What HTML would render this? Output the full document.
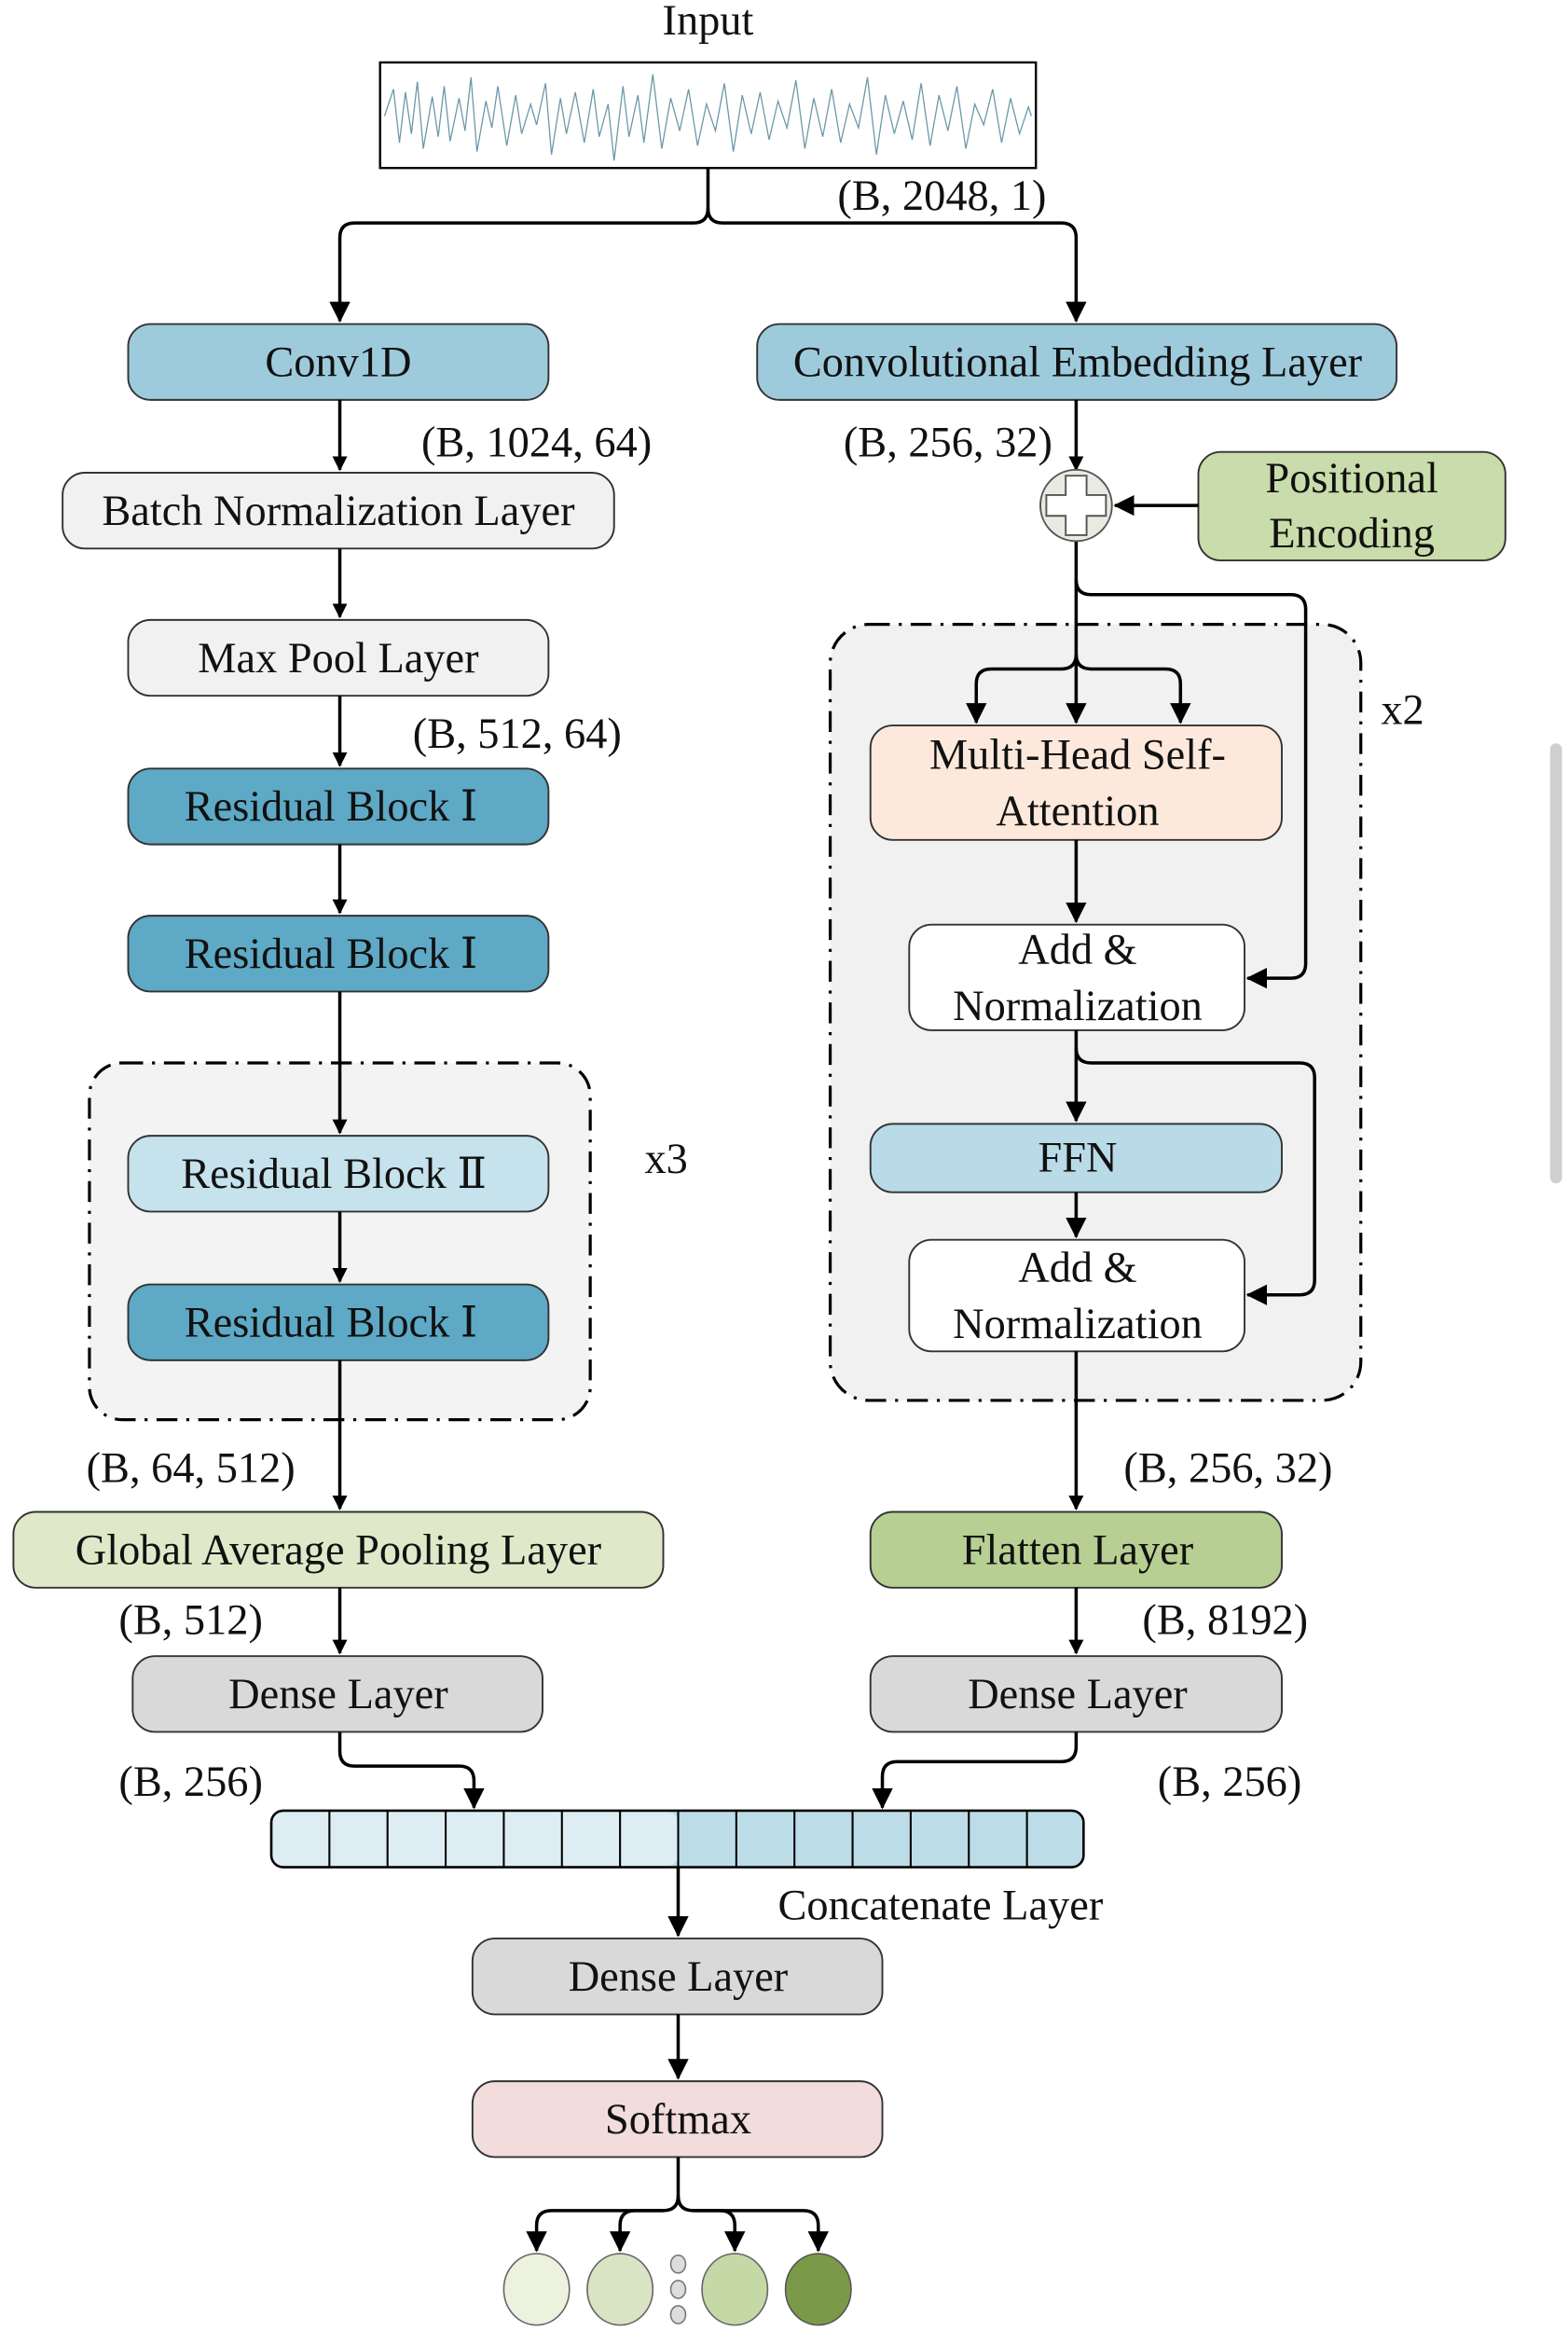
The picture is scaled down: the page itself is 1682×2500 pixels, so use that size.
<!DOCTYPE html>
<html><head><meta charset="utf-8"><style>
html,body{margin:0;padding:0;background:#fff;}
svg{display:block;}
text{font-family:"Liberation Serif","DejaVu Serif",serif;font-size:29px;fill:#111;text-anchor:middle;dominant-baseline:central;}
.b{stroke:#333;stroke-width:1.2;}
.l{stroke:#000;stroke-width:2.2;fill:none;}
</style></head><body>
<svg width="1682" height="2500" viewBox="0 0 1052 1568" preserveAspectRatio="none" xmlns="http://www.w3.org/2000/svg">
<defs><marker id="a" markerWidth="10" markerHeight="10" refX="9" refY="5" orient="auto" markerUnits="userSpaceOnUse"><path d="M0,0 L10,5 L0,10 z" fill="#000"/></marker>
<marker id="h" markerWidth="14" markerHeight="14" refX="13" refY="7" orient="auto" markerUnits="userSpaceOnUse"><path d="M0,0 L14,7 L0,14 z" fill="#000"/></marker></defs>
<rect x="1040" y="500" width="8" height="296" rx="4" fill="#cfcfcf"/>
<text x="475" y="14">Input</text>
<rect x="255" y="42" width="440" height="71" fill="#fff" stroke="#000" stroke-width="1.5"/>
<polyline fill="none" stroke="#6a97a8" stroke-width="0.8" points="258,78 264,60 268,96 272,62 276,90 280,55 284,100 290,65 294,92 298,58 302,95 308,66 312,88 316,52 320,102 326,68 330,86 334,58 340,98 346,64 350,90 356,70 360,84 366,56 370,104 376,66 380,90 386,62 392,96 398,60 402,92 408,70 412,108 418,58 422,92 428,64 432,96 438,50 444,100 450,66 456,88 462,60 468,98 474,70 480,88 486,56 492,102 498,64 504,90 510,62 516,94 522,68 528,86 534,54 540,100 546,66 552,92 558,60 564,96 570,70 576,86 582,52 588,104 594,64 600,90 606,68 612,94 618,56 624,98 630,64 636,88 642,58 648,100 654,70 660,84 666,60 672,96 678,66 684,90 690,72 692,78"/>
<path class="l" d="M475,113 V140 Q475,150 465,150 H238 Q228,150 228,160 V216" marker-end="url(#h)"/>
<path class="l" d="M475,140 Q475,150 485,150 H712 Q722,150 722,160 V216" marker-end="url(#h)"/>
<text x="632" y="132">(B, 2048, 1)</text>
<rect class="b" x="86" y="218" width="282" height="51" rx="15" fill="#9dcbdc"/><text x="227" y="244">Conv1D</text>
<path class="l" d="M228,269 V316" marker-end="url(#a)"/>
<text x="360" y="298">(B, 1024, 64)</text>
<rect class="b" x="42" y="318" width="370" height="51" rx="15" fill="#f1f1f1"/><text x="227" y="344">Batch Normalization Layer</text>
<path class="l" d="M228,369 V415" marker-end="url(#a)"/>
<rect class="b" x="86" y="417" width="282" height="51" rx="15" fill="#f1f1f1"/><text x="227" y="443">Max Pool Layer</text>
<path class="l" d="M228,468 V515" marker-end="url(#a)"/>
<text x="347" y="494">(B, 512, 64)</text>
<rect class="b" x="86" y="517" width="282" height="51" rx="15" fill="#5ea9c5"/><text x="222" y="543">Residual Block Ⅰ</text>
<path class="l" d="M228,568 V614" marker-end="url(#a)"/>
<rect class="b" x="86" y="616" width="282" height="51" rx="15" fill="#5ea9c5"/><text x="222" y="642">Residual Block Ⅰ</text>
<rect x="60" y="715" width="336" height="240" rx="22" fill="#f3f3f3" stroke="#000" stroke-width="2" stroke-dasharray="14,6,2,6"/>
<path class="l" d="M228,667 V762" marker-end="url(#a)"/>
<text x="447" y="780">x3</text>
<rect class="b" x="86" y="764" width="282" height="51" rx="15" fill="#c6e2ec"/><text x="224" y="790">Residual Block Ⅱ</text>
<path class="l" d="M228,815 V862" marker-end="url(#a)"/>
<rect class="b" x="86" y="864" width="282" height="51" rx="15" fill="#5ea9c5"/><text x="222" y="890">Residual Block Ⅰ</text>
<path class="l" d="M228,915 V1015" marker-end="url(#a)"/>
<text x="128" y="988">(B, 64, 512)</text>
<rect class="b" x="9" y="1017" width="436" height="51" rx="15" fill="#dfe9c9"/><text x="227" y="1043">Global Average Pooling Layer</text>
<path class="l" d="M228,1068 V1112" marker-end="url(#a)"/>
<text x="128" y="1090">(B, 512)</text>
<rect class="b" x="89" y="1114" width="275" height="51" rx="15" fill="#d9d9d9"/><text x="227" y="1140">Dense Layer</text>
<rect class="b" x="508" y="218" width="429" height="51" rx="15" fill="#9dcbdc"/><text x="723" y="244">Convolutional Embedding Layer</text>
<path class="l" d="M722,269 V316" marker-end="url(#a)"/>
<text x="636" y="298">(B, 256, 32)</text>
<rect class="b" x="804" y="304" width="206" height="73" rx="15" fill="#c9dcab"/><text x="907" y="322">Positional</text><text x="907" y="359">Encoding</text>
<path class="l" d="M804,340 V340 H748" marker-end="url(#h)"/>
<rect x="557" y="420" width="356" height="522" rx="26" fill="#f1f1f1" stroke="#000" stroke-width="2" stroke-dasharray="14,6,2,6"/>
<text x="941" y="478">x2</text>
<path class="l" d="M722,364 V390 Q722,400 732,400 H866 Q876,400 876,410 V648 Q876,658 866,658 H837" marker-end="url(#h)"/>
<path class="l" d="M722,390 V486" marker-end="url(#h)"/>
<path class="l" d="M722,440 Q722,450 712,450 H665 Q655,450 655,460 V486" marker-end="url(#h)"/>
<path class="l" d="M722,440 Q722,450 732,450 H782 Q792,450 792,460 V486" marker-end="url(#h)"/>
<ellipse cx="722" cy="340" rx="24" ry="24" fill="#e8ebe2" stroke="#555" stroke-width="1.2"/>
<path d="M715,320 H729 V333 H742 V347 H729 V360 H715 V347 H702 V333 H715 Z" fill="#fff" stroke="#555" stroke-width="1.2"/>
<rect class="b" x="584" y="488" width="276" height="77" rx="15" fill="#fde9dc"/><text x="723" y="508">Multi-Head Self-</text><text x="723" y="546">Attention</text>
<path class="l" d="M722,565 V620" marker-end="url(#h)"/>
<rect class="b" x="610" y="622" width="225" height="71" rx="15" fill="#fff"/><text x="723" y="639">Add &amp;</text><text x="723" y="677">Normalization</text>
<path class="l" d="M722,693 V754" marker-end="url(#h)"/>
<path class="l" d="M722,705 Q722,715 732,715 H872 Q882,715 882,725 V861 Q882,871 872,871 H837" marker-end="url(#h)"/>
<rect class="b" x="584" y="756" width="276" height="46" rx="15" fill="#b8dbe7"/><text x="723" y="779">FFN</text>
<path class="l" d="M722,802 V832" marker-end="url(#h)"/>
<rect class="b" x="610" y="834" width="225" height="75" rx="15" fill="#fff"/><text x="723" y="853">Add &amp;</text><text x="723" y="891">Normalization</text>
<path class="l" d="M722,909 V1015" marker-end="url(#a)"/>
<text x="824" y="988">(B, 256, 32)</text>
<rect class="b" x="584" y="1017" width="276" height="51" rx="15" fill="#b7cf92"/><text x="723" y="1043">Flatten Layer</text>
<path class="l" d="M722,1068 V1112" marker-end="url(#a)"/>
<text x="822" y="1090">(B, 8192)</text>
<rect class="b" x="584" y="1114" width="276" height="51" rx="15" fill="#d9d9d9"/><text x="723" y="1140">Dense Layer</text>
<path class="l" d="M228,1165 V1178 Q228,1188 238,1188 H308 Q318,1188 318,1198 V1216" marker-end="url(#h)"/>
<path class="l" d="M722,1165 V1175 Q722,1185 712,1185 H602 Q592,1185 592,1195 V1216" marker-end="url(#h)"/>
<text x="128" y="1199">(B, 256)</text>
<text x="825" y="1199">(B, 256)</text>
<rect x="182" y="1218" width="545" height="38" rx="8" fill="#bcdce7" stroke="#000" stroke-width="1.5"/>
<rect x="183" y="1219" width="272" height="36" rx="7" fill="#deedf3"/>
<g stroke="#000" stroke-width="1.3">
<line x1="221" y1="1218" x2="221" y2="1256"/><line x1="260" y1="1218" x2="260" y2="1256"/><line x1="299" y1="1218" x2="299" y2="1256"/><line x1="338" y1="1218" x2="338" y2="1256"/><line x1="377" y1="1218" x2="377" y2="1256"/><line x1="416" y1="1218" x2="416" y2="1256"/><line x1="455" y1="1218" x2="455" y2="1256"/><line x1="494" y1="1218" x2="494" y2="1256"/><line x1="533" y1="1218" x2="533" y2="1256"/><line x1="572" y1="1218" x2="572" y2="1256"/><line x1="611" y1="1218" x2="611" y2="1256"/><line x1="650" y1="1218" x2="650" y2="1256"/><line x1="689" y1="1218" x2="689" y2="1256"/>
</g>
<rect x="182" y="1218" width="545" height="38" rx="8" fill="none" stroke="#000" stroke-width="1.5"/>
<text x="631" y="1282">Concatenate Layer</text>
<path class="l" d="M455,1256 V1302" marker-end="url(#h)"/>
<rect class="b" x="317" y="1304" width="275" height="51" rx="15" fill="#d9d9d9"/><text x="455" y="1330">Dense Layer</text>
<path class="l" d="M455,1355 V1398" marker-end="url(#h)"/>
<rect class="b" x="317" y="1400" width="275" height="51" rx="15" fill="#f2dcdc"/><text x="455" y="1426">Softmax</text>
<path class="l" d="M455,1451 V1477 Q455,1487 445,1487 H370 Q360,1487 360,1497 V1514" marker-end="url(#h)"/>
<path class="l" d="M445,1487 H426 Q416,1487 416,1497 V1514" marker-end="url(#h)"/>
<path class="l" d="M455,1477 Q455,1487 465,1487 H539 Q549,1487 549,1497 V1514" marker-end="url(#h)"/>
<path class="l" d="M465,1487 H483 Q493,1487 493,1497 V1514" marker-end="url(#h)"/>
<ellipse cx="360" cy="1540" rx="22" ry="24" fill="#edf2df" stroke="#666" stroke-width="1"/>
<ellipse cx="416" cy="1540" rx="22" ry="24" fill="#d8e4c3" stroke="#666" stroke-width="1"/>
<ellipse cx="493" cy="1540" rx="22" ry="24" fill="#c5d9a6" stroke="#666" stroke-width="1"/>
<ellipse cx="549" cy="1540" rx="22" ry="24" fill="#7b9a49" stroke="#555" stroke-width="1"/>
<ellipse cx="455" cy="1523" rx="5" ry="6" fill="#ddd" stroke="#777"/>
<ellipse cx="455" cy="1540" rx="5" ry="6" fill="#ddd" stroke="#777"/>
<ellipse cx="455" cy="1557" rx="5" ry="6" fill="#ddd" stroke="#777"/>
</svg>
</body></html>
